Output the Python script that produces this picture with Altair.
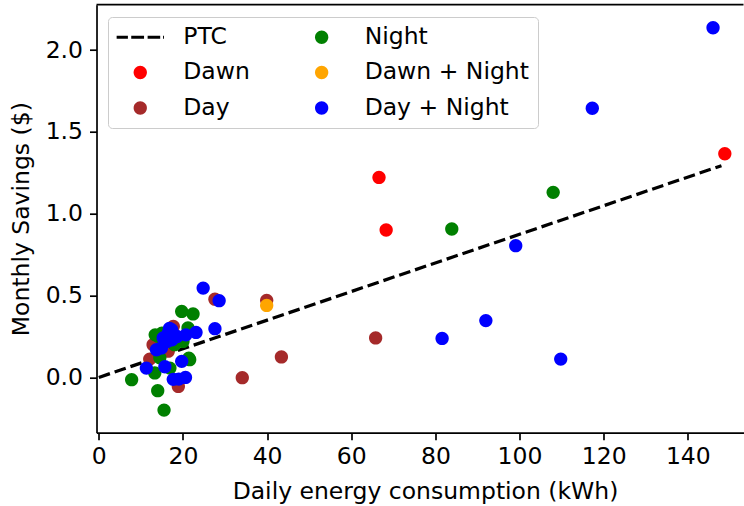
import altair as alt
import pandas as pd

# ---------------- data ----------------
dawn_x = [66.6, 68.3, 148.8]
dawn_y = [1.222, 0.901, 1.367]

day_x = [12.1, 12.9, 17.7, 18.9, 27.6, 39.9, 43.4, 34.1, 65.8, 16.5]
day_y = [0.112, 0.200, 0.312, -0.055, 0.478, 0.471, 0.125, -0.002, 0.241, 0.160]

night_x = [7.8, 14.0, 15.5, 13.3, 19.7, 22.4, 14.1, 13.4, 16.9, 21.6, 21.4, 21.2,
           15.0, 18.0, 14.5, 20.0, 83.9, 108.0]
night_y = [-0.014, -0.081, -0.200, 0.027, 0.403, 0.388, 0.251, 0.260, 0.057, 0.108,
           0.118, 0.302, 0.270, 0.200, 0.120, 0.220, 0.907, 1.131]

dawn_night_x = [39.9]
dawn_night_y = [0.440]

day_night_x = [146.0, 117.3, 99.1, 81.6, 92.0, 109.8, 24.8, 28.6, 27.6, 20.6, 17.7,
               19.0, 23.1, 20.7, 19.7, 11.3, 16.5, 17.3, 15.3, 13.7, 15.7, 16.2,
               18.6, 17.4, 14.9, 16.8]
day_night_y = [2.137, 1.645, 0.805, 0.238, 0.347, 0.112, 0.546, 0.469, 0.298, 0.000,
               -0.012, -0.010, 0.275, 0.260, 0.098, 0.057, 0.270, 0.292, 0.241, 0.169,
               0.065, 0.220, 0.250, 0.230, 0.180, 0.300]

ptc_x = [0.0, 148.0]
ptc_y = [0.0, 1.294]

x_ticks = [0, 20, 40, 60, 80, 100, 120, 140]
y_ticks = [0.0, 0.5, 1.0, 1.5, 2.0]

# legend order (column-major, two columns)
legend_order = ["PTC", "Dawn", "Day", "Night", "Dawn + Night", "Day + Night"]
legend_colors = ["black", "red", "brown", "green", "orange", "blue"]

# ---------------- frames ----------------
groups = [
    ("Dawn", dawn_x, dawn_y),
    ("Day", day_x, day_y),
    ("Night", night_x, night_y),
    ("Dawn + Night", dawn_night_x, dawn_night_y),
    ("Day + Night", day_night_x, day_night_y),
]
rows = []
for name, xs, ys in groups:
    for a, b in zip(xs, ys):
        rows.append({"x": a, "y": b, "cat": name})
pts = pd.DataFrame(rows)
ptc = pd.DataFrame({"x": ptc_x, "y": ptc_y})

# ---------------- styling ----------------
FONT = "DejaVu Sans"
FS = 23.5
W, H = 647, 428
SYM = 2256  # symbol area; custom paths are scaled by sqrt(SYM)/2
R = 0.28
circle_path = (f"M-1,-0.3M1,0.3M{R},0A{R},{R},0,1,1,-{R},0A{R},{R},0,1,1,{R},0Z")
t = 0.068
dash_path = (f"M0,-0.3M0,0.3"
             f"M-1,-{t}H-0.52V{t}H-1Z"
             f"M-0.38,-{t}H0.16V{t}H-0.38Z"
             f"M0.31,-{t}H0.84V{t}H0.31Z"
             f"M0.96,-{t}H1V{t}H0.96Z")
legend_shapes = [dash_path] + [circle_path] * 5

xscale = alt.Scale(domain=[-0.55, 153.24], nice=False, zero=False)
yscale = alt.Scale(domain=[-0.338, 2.278], nice=False, zero=False)

leg = alt.Legend(title=None, orient="none", legendX=11.5, legendY=12.3,
                 columns=2, padding=8.25, rowPadding=10.5, columnPadding=47.4,
                 clipHeight=23.5,
                 labelOffset=19, symbolSize=SYM, symbolStrokeWidth=0,
                 labelFont=FONT, labelFontSize=FS, labelColor="black",
                 fillColor="rgba(255,255,255,0.8)", strokeColor="#cccccc",
                 cornerRadius=4, symbolOpacity=1, labelLimit=400)

points = alt.Chart(pts).mark_point(filled=True, opacity=1, size=SYM, strokeWidth=0).encode(
    x=alt.X("x:Q", scale=xscale,
            axis=alt.Axis(values=x_ticks, title="Daily energy consumption (kWh)",
                          labelPadding=5, titlePadding=11, titleX=328.5, format="d")),
    y=alt.Y("y:Q", scale=yscale,
            axis=alt.Axis(values=y_ticks, title="Monthly Savings ($)", format=".1f",
                          labelPadding=7, titlePadding=12)),
    color=alt.Color("cat:N", scale=alt.Scale(domain=legend_order, range=legend_colors),
                    legend=leg),
    shape=alt.Shape("cat:N", scale=alt.Scale(domain=legend_order, range=legend_shapes),
                    legend=leg),
)

line = alt.Chart(ptc).mark_line(color="black", strokeDash=[11.7, 5], strokeWidth=3.2).encode(
    x=alt.X("x:Q", scale=xscale),
    y=alt.Y("y:Q", scale=yscale),
)

frame = alt.Chart(pd.DataFrame({"k": [0]})).mark_rule(color="black", strokeWidth=1.7).encode(
    x=alt.value(0), x2=alt.value(W), y=alt.value(0)
)

chart = alt.layer(line, points, frame).properties(
    width=W, height=H,
    autosize=alt.AutoSizeParams(type="none"),
    padding={"left": 96.5, "top": 4.7, "right": 0, "bottom": 73},
).configure_view(stroke=None).configure_axis(
    grid=False, domainColor="black", domainWidth=1.7, tickColor="black", tickWidth=1.7,
    tickSize=7, labelFont=FONT, labelFontSize=FS, labelColor="black",
    titleFont=FONT, titleFontSize=FS, titleFontWeight="normal", titleColor="black",
)

chart.save("out.html", embed_options={"renderer": "svg", "actions": False})
